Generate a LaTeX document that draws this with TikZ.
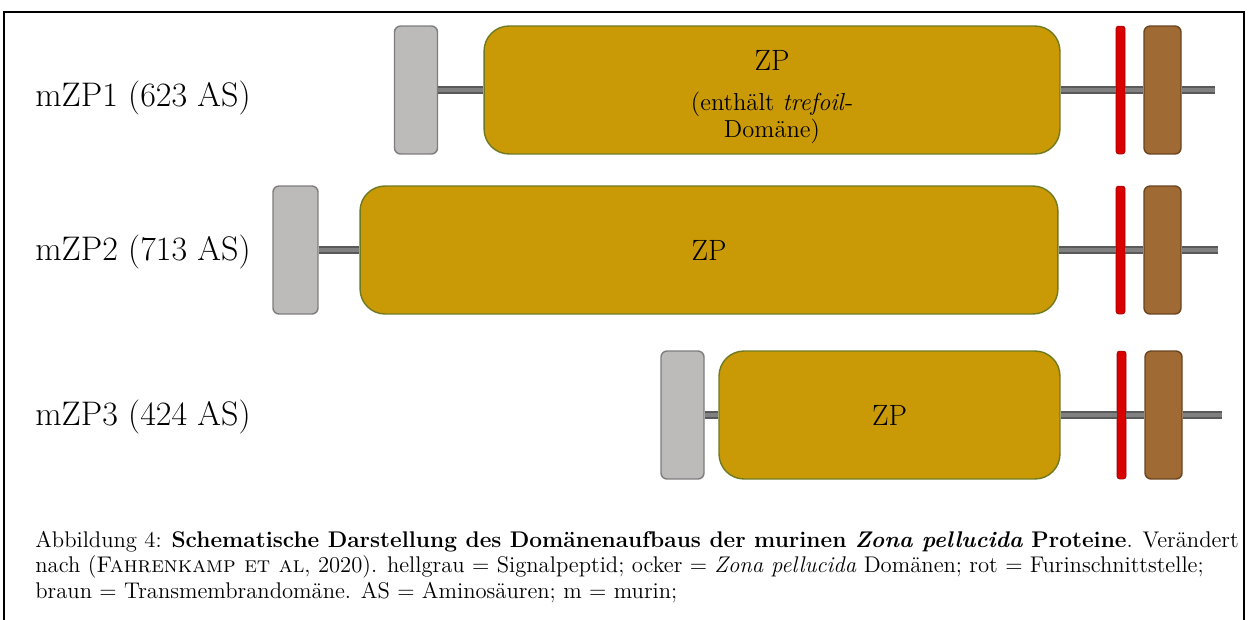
\documentclass[tikz,border=0pt]{standalone}
\usepackage{tikz}
\usepackage{xcolor}
\usetikzlibrary{positioning}

\definecolor{ocker}{HTML}{C99A06}
\definecolor{ockerrand}{HTML}{6E7A22}
\definecolor{hellgrau}{HTML}{BDBABA}
\definecolor{graurand}{HTML}{7E7C7C}
\definecolor{furinrot}{HTML}{D90000}
\definecolor{braun}{HTML}{A06A35}
\definecolor{braunrand}{HTML}{6A4520}
\definecolor{stiel}{HTML}{808080}

\tikzset{
  sigbox/.style={draw=graurand, fill=hellgrau, line width=0.8pt, rounded corners=0.12cm,
    minimum width=0.86cm, minimum height=2.56cm, inner sep=0pt},
  zpbox/.style={draw=ockerrand, fill=ocker, line width=0.8pt, rounded corners=0.5cm,
    minimum height=2.56cm, inner sep=0pt, align=center, font=\fontsize{16.7}{18}\selectfont},
  furin/.style={draw=red!60!black, fill=furinrot, line width=0.3pt, rounded corners=0.05cm,
    minimum width=0.18cm, minimum height=2.56cm, inner sep=0pt},
  tmbox/.style={draw=braunrand, fill=braun, line width=0.8pt, rounded corners=0.12cm,
    minimum width=0.74cm, minimum height=2.56cm, inner sep=0pt},
  stalk/.style={draw=black!65, line width=1pt, double=stiel, double distance=2.4pt},
  rowlabel/.style={anchor=west, inner sep=0pt, font=\fontsize{19.4}{22}\selectfont},
}
\newcommand{\zpklein}{\fontsize{14}{16}\selectfont}

\begin{document}
\begin{tikzpicture}[x=0.02cm, y=-0.02cm]
\useasboundingbox (0,0) rectangle (1248,619);
%% frame
\draw[line width=1.1pt] (4,640) -- (4,12) -- (1244,12) -- (1244,640);

%% mZP1
\node[rowlabel] (lab1) at (35,98) {mZP1 (623 AS)};
\node[sigbox] (sig1) at (416,90) {};
\node[zpbox, minimum width=11.52cm] (zp1) at (772,90) {};
\node[align=center, inner sep=0pt, font=\fontsize{16.7}{18}\selectfont] (zp1txt) at (772,97)
  {ZP\\[5pt]\zpklein (enthält \textit{trefoil}-\\[-3pt]\zpklein Domäne)};
\node[furin] (fur1) at (1120.5,90) {};
\node[tmbox] (tm1) at (1162.5,90) {};
\coordinate (end1) at (1215,90);
\draw[stalk] (sig1.east) -- (zp1.west);
\draw[stalk] (zp1.east) -- (fur1.west);
\draw[stalk] (fur1.east) -- (tm1.west);
\draw[stalk] (tm1.east) -- (end1);

%% mZP2
\node[rowlabel] (lab2) at (35,252) {mZP2 (713 AS)};
\node[sigbox, minimum width=0.9cm] (sig2) at (295.5,250) {};
\node[zpbox, minimum width=13.96cm] (zp2) at (709,250) {ZP};
\node[furin] (fur2) at (1120.5,250) {};
\node[tmbox] (tm2) at (1162.5,250) {};
\coordinate (end2) at (1218,250);
\draw[stalk] (sig2.east) -- (zp2.west);
\draw[stalk] (zp2.east) -- (fur2.west);
\draw[stalk] (fur2.east) -- (tm2.west);
\draw[stalk] (tm2.east) -- (end2);

%% mZP3
\node[rowlabel] (lab3) at (35,417) {mZP3 (424 AS)};
\node[sigbox] (sig3) at (682.5,415) {};
\node[zpbox, minimum width=6.82cm] (zp3) at (889.5,415) {ZP};
\node[furin] (fur3) at (1121.5,415) {};
\node[tmbox] (tm3) at (1163.5,415) {};
\coordinate (end3) at (1222,415);
\draw[stalk] (sig3.east) -- (zp3.west);
\draw[stalk] (zp3.east) -- (fur3.west);
\draw[stalk] (fur3.east) -- (tm3.west);
\draw[stalk] (tm3.east) -- (end3);

%% caption
\node[anchor=north west, inner sep=0pt, align=left, font=\fontsize{12.9}{14.4}\selectfont] (cap) at (35,531)
  {Abbildung 4: \textbf{Schematische Darstellung des Domänenaufbaus der murinen \textit{Zona pellucida} Proteine}. Verändert\\
   nach (\textsc{Fahrenkamp et al}, 2020). hellgrau = Signalpeptid; ocker = \textit{Zona pellucida} Domänen; rot = Furinschnittstelle;\\
   braun = Transmembrandomäne. AS = Aminosäuren; m = murin;};
\end{tikzpicture}
\end{document}
